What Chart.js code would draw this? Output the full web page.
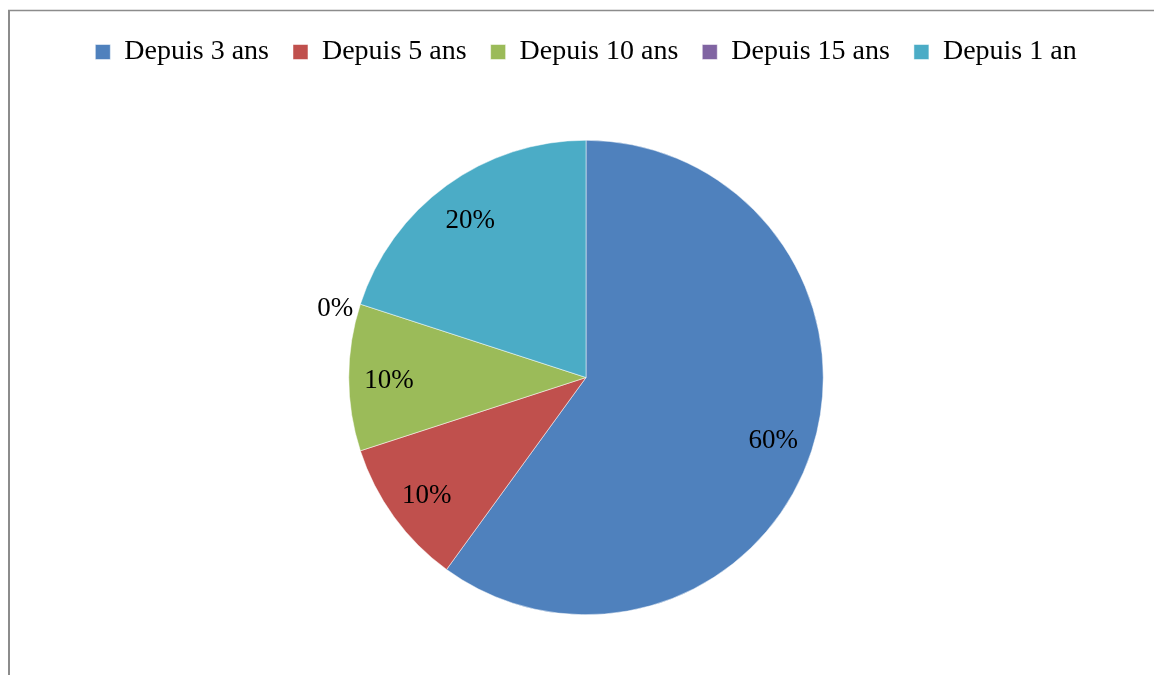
<!DOCTYPE html>
<html lang="fr">
<head>
  <meta charset="UTF-8">
  <title>Depuis combien de temps</title>
  <script src="https://cdn.jsdelivr.net/npm/chart.js"></script>
  <style>
    body { margin: 0; background: #fff; }
    #wrap { position: relative; width: 1154px; height: 675px; }
  </style>
</head>
<body>
  <div id="wrap"><canvas id="pieChart"></canvas></div>

  <script>
    const categories = ["Depuis 3 ans", "Depuis 5 ans", "Depuis 10 ans", "Depuis 15 ans", "Depuis 1 an"];
    const values = [60, 10, 10, 0, 20];
    const valueLabels = ["60%", "10%", "10%", "0%", "20%"];
    const colors = ["#4F81BD", "#C0504D", "#9BBB59", "#8064A2", "#4BACC6"];

    const serif = "'Liberation Serif', 'DejaVu Serif', serif";

    // cadre gris (bord gauche + haut)
    const framePlugin = {
      id: "frame",
      beforeDraw(chart) {
        const ctx = chart.ctx;
        ctx.save();
        ctx.strokeStyle = "#8c8c8c";
        ctx.lineWidth = 2;
        ctx.beginPath();
        ctx.moveTo(9, chart.height);
        ctx.lineTo(9, 10);
        ctx.stroke();
        ctx.lineWidth = 1.5;
        ctx.beginPath();
        ctx.moveTo(8, 10.5);
        ctx.lineTo(chart.width, 10.5);
        ctx.stroke();
        ctx.restore();
      }
    };

    // espace sous la légende
    const legendGap = {
      id: "legendGap",
      beforeInit(chart) {
        const fit = chart.legend.fit;
        chart.legend.fit = function () {
          fit.bind(chart.legend)();
          this.height += 64;
        };
      }
    };

    // étiquettes de pourcentage sur les parts
    const labelPlugin = {
      id: "sliceLabels",
      afterDatasetsDraw(chart) {
        const ctx = chart.ctx;
        const meta = chart.getDatasetMeta(0);
        ctx.save();
        ctx.font = "27px " + serif;
        ctx.fillStyle = "#000";
        ctx.textAlign = "center";
        ctx.textBaseline = "middle";
        meta.data.forEach((arc, i) => {
          let mid = (arc.startAngle + arc.endAngle) / 2;
          let f = 0.83;
          if (values[i] === 0) { f = 1.1; mid -= 0.035; }
          const x = arc.x + Math.cos(mid) * arc.outerRadius * f;
          const y = arc.y + Math.sin(mid) * arc.outerRadius * f + 3;
          ctx.fillText(valueLabels[i], x, y);
        });
        ctx.restore();
      }
    };

    new Chart(document.getElementById("pieChart"), {
      type: "pie",
      data: {
        labels: categories,
        datasets: [{
          data: values,
          backgroundColor: colors,
          borderColor: "#ffffff",
          borderWidth: 0.5
        }]
      },
      options: {
        responsive: true,
        maintainAspectRatio: false,
        animation: false,
        layout: { padding: { left: 18, right: 0, top: 14, bottom: 60 } },
        plugins: {
          tooltip: { enabled: false },
          legend: {
            position: "top",
            labels: {
              boxWidth: 15,
              boxHeight: 15,
              padding: 24,
              color: "#000",
              font: { family: serif, size: 28 }
            }
          }
        }
      },
      plugins: [framePlugin, legendGap, labelPlugin]
    });
  </script>
</body>
</html>
